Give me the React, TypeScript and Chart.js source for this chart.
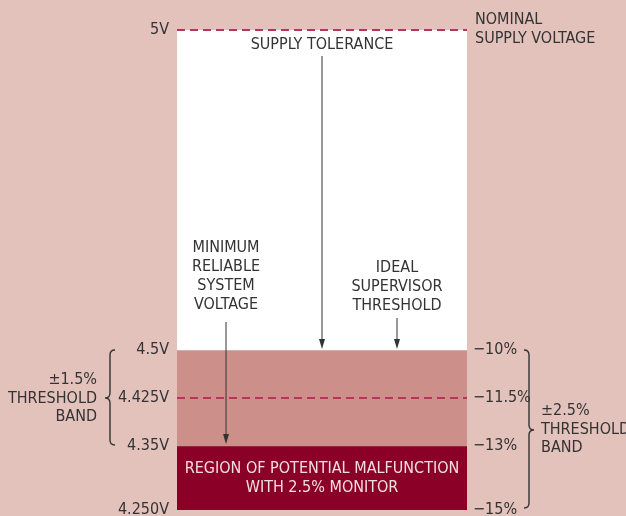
import { useEffect, useRef } from "react";
import { Chart, registerables } from "chart.js";

Chart.register(...registerables);

// ---- data ----
const categories = ["Supply"];
const voltageTicks = [5, 4.5, 4.425, 4.35, 4.25];
const voltageLabels = ["5V", "4.5V", "4.425V", "4.35V", "4.250V"];
const percentTicks = [4.5, 4.425, 4.35, 4.25];
const percentLabels = ["\u221210%", "\u221211.5%", "\u221213%", "\u221215%"];
const toleranceBand = [4.5, 5];
const thresholdBand = [4.35, 4.5];
const malfunctionBand = [4.25, 4.35];
const nominalVoltage = 5;
const midThreshold = 4.425;
const yMin = 4.25;
const yMax = 5;

// ---- style ----
const BG = "#e4c2bc";
const WHITE = "#ffffff";
const MID = "#cd8f89";
const DARK = "#8b0026";
const DASH = "#b5355c";
const TEXT = "#333333";
const FAMILY = "'Liberation Sans Narrow', 'Arial Narrow', 'DejaVu Sans Condensed', sans-serif";
const FS = 16;

function drawBrace(ctx: CanvasRenderingContext2D, x: number, yTop: number, yBot: number, yMid: number, dir: number) {
  const d = 5;
  ctx.beginPath();
  ctx.moveTo(x - dir * d, yTop);
  ctx.quadraticCurveTo(x, yTop, x, yTop + d);
  ctx.lineTo(x, yMid - d);
  ctx.quadraticCurveTo(x, yMid, x + dir * d, yMid);
  ctx.quadraticCurveTo(x, yMid, x, yMid + d);
  ctx.lineTo(x, yBot - d);
  ctx.quadraticCurveTo(x, yBot, x - dir * d, yBot);
  ctx.stroke();
}

function drawArrow(ctx: CanvasRenderingContext2D, x: number, y1: number, y2: number) {
  ctx.beginPath();
  ctx.moveTo(x, y1);
  ctx.lineTo(x, y2 - 8);
  ctx.stroke();
  ctx.beginPath();
  ctx.moveTo(x - 3, y2 - 10);
  ctx.lineTo(x + 3, y2 - 10);
  ctx.lineTo(x, y2);
  ctx.closePath();
  ctx.fill();
}

function lines(ctx: CanvasRenderingContext2D, arr: string[], x: number, y: number, step: number) {
  arr.forEach((t, i) => ctx.fillText(t, x, y + i * step));
}

const overlay = {
  id: "overlay",
  afterDraw(chart: any) {
    const ctx: CanvasRenderingContext2D = chart.ctx;
    const { left, right } = chart.chartArea;
    const ys = chart.scales.y;
    const Y = (v: number) => ys.getPixelForValue(v);
    const cx = (left + right) / 2;
    ctx.save();

    // dashed lines
    ctx.strokeStyle = DASH;
    ctx.lineWidth = 2;
    ctx.setLineDash([8, 5]);
    [nominalVoltage, midThreshold].forEach((v) => {
      ctx.beginPath();
      ctx.moveTo(left, Y(v));
      ctx.lineTo(right, Y(v));
      ctx.stroke();
    });
    ctx.setLineDash([]);

    ctx.font = `${FS}px ${FAMILY}`;
    ctx.textBaseline = "middle";
    ctx.fillStyle = TEXT;
    ctx.strokeStyle = TEXT;
    ctx.lineWidth = 1;

    // top labels
    ctx.textAlign = "center";
    ctx.fillText("SUPPLY TOLERANCE", cx, Y(nominalVoltage) + 15);
    drawArrow(ctx, cx, Y(nominalVoltage) + 26, Y(toleranceBand[0]) - 1);

    const minX = left + 49;
    lines(ctx, ["MINIMUM", "RELIABLE", "SYSTEM", "VOLTAGE"], minX, 248, 19);
    drawArrow(ctx, minX, 322, Y(thresholdBand[0]) - 2);

    const idealX = right - 70;
    lines(ctx, ["IDEAL", "SUPERVISOR", "THRESHOLD"], idealX, 268, 19);
    drawArrow(ctx, idealX, 318, Y(toleranceBand[0]) - 1);

    ctx.textAlign = "left";
    lines(ctx, ["NOMINAL", "SUPPLY VOLTAGE"], right + 8, 20, 19);

    // left brace
    ctx.textAlign = "right";
    lines(ctx, ["\u00b11.5%", "THRESHOLD", "BAND"], 97, Y(midThreshold) - 18, 18.5);
    ctx.lineWidth = 1.4;
    drawBrace(ctx, 110, Y(thresholdBand[1]), Y(thresholdBand[0]) - 1, Y(midThreshold), -1);

    // right brace
    ctx.textAlign = "left";
    lines(ctx, ["\u00b12.5%", "THRESHOLD", "BAND"], 541, 411, 18.5);
    drawBrace(ctx, 529, Y(thresholdBand[1]), Y(malfunctionBand[0]) - 2, 430, 1);

    // region text
    ctx.textAlign = "center";
    ctx.fillStyle = "#f3dfe2";
    const rm = (Y(malfunctionBand[0]) + Y(malfunctionBand[1])) / 2;
    ctx.fillText("REGION OF POTENTIAL MALFUNCTION", cx, rm - 9.5);
    ctx.fillText("WITH 2.5% MONITOR", cx, rm + 10);

    ctx.restore();
  },
};

export default function App() {
  const ref = useRef<HTMLCanvasElement>(null);
  useEffect(() => {
    const font = { family: FAMILY, size: FS };
    const chart = new Chart(ref.current!, {
      type: "bar",
      data: {
        labels: categories,
        datasets: [
          { data: [toleranceBand as any], backgroundColor: WHITE },
          { data: [thresholdBand as any], backgroundColor: MID },
          { data: [malfunctionBand as any], backgroundColor: DARK },
        ].map((d) => ({ ...d, grouped: false, barPercentage: 1, categoryPercentage: 1, borderWidth: 0 })),
      },
      options: {
        animation: false,
        responsive: false,
        layout: { padding: { top: 30, bottom: 6, left: 0, right: 0 } },
        plugins: { legend: { display: false }, tooltip: { enabled: false } },
        scales: {
          x: { display: false },
          y: {
            type: "linear",
            position: "left",
            min: yMin,
            max: yMax,
            afterBuildTicks: (s: any) => {
              s.ticks = voltageTicks.map((v) => ({ value: v }));
            },
            afterFit: (s: any) => {
              s.width = 177;
              s.paddingTop = 0;
              s.paddingBottom = 0;
            },
            ticks: {
              autoSkip: false,
              padding: 8,
              color: TEXT,
              font,
              callback: (_v: any, i: number) => voltageLabels[i],
            },
            grid: { display: false, drawTicks: false },
            border: { display: false },
          },
          y2: {
            type: "linear",
            position: "right",
            min: yMin,
            max: yMax,
            afterBuildTicks: (s: any) => {
              s.ticks = percentTicks.map((v) => ({ value: v }));
            },
            afterFit: (s: any) => {
              s.width = 159;
              s.paddingTop = 0;
              s.paddingBottom = 0;
            },
            ticks: {
              autoSkip: false,
              padding: 6,
              color: TEXT,
              font,
              callback: (_v: any, i: number) => percentLabels[i],
            },
            grid: { display: false, drawTicks: false },
            border: { display: false },
          },
        },
      } as any,
      plugins: [overlay],
    });
    return () => chart.destroy();
  }, []);
  return (
    <div style={{ position: "fixed", left: 0, top: 0, width: 626, height: 516, background: BG }}>
      <canvas ref={ref} width={626} height={516} style={{ width: 626, height: 516, display: "block" }} />
    </div>
  );
}
